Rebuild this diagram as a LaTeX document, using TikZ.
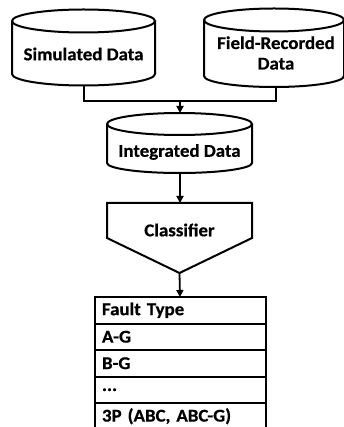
\documentclass[tikz,border=0pt]{standalone}
\usepackage{fontspec}
\setmainfont{Carlito}[FakeStretch=1.05, BoldFeatures={FakeBold=0.6}]
\usetikzlibrary{arrows.meta}
\begin{document}
\begin{tikzpicture}[x=1pt,y=-1pt,
  line width=2pt,
  txt/.style={font=\bfseries\fontsize{18}{20.5}\selectfont},
  lbl/.style={txt, align=center, inner sep=0pt},
  arr/.style={-{Triangle[length=7pt,width=7pt]}, line width=1.8pt},
  rowbox/.style={draw, txt, line width=2pt, outer sep=0pt, minimum width=171pt, minimum height=26.5pt, text width=156pt, inner xsep=7.5pt, inner ysep=0pt, align=left}]
\useasboundingbox (0,0) rectangle (344,427);
% Simulated Data cylinder
\draw (12,21) -- (12,74) arc[start angle=180, end angle=0, x radius=71.5, y radius=11.5] -- (155,21);
\draw (83.5,21) ellipse [x radius=71.5, y radius=11.5];
\node[lbl] (sim) at (83.5,54) {Simulated Data};
\coordinate (simB) at (83.5,85.5);
% Field-Recorded Data cylinder
\draw (204,20) -- (204,76) arc[start angle=180, end angle=0, x radius=70, y radius=11] -- (344,20);
\draw (274,20) ellipse [x radius=70, y radius=11.5];
\node[lbl] (fld) at (276,53) {Field-Recorded\\Data};
\coordinate (fldB) at (276,87);
% connector
\coordinate (join) at (180,101);
\draw (simB) -- (simB |- join) -- (fldB |- join) -- (fldB);
% Integrated Data cylinder
\draw (107,124) -- (107,163) arc[start angle=180, end angle=0, x radius=72.5, y radius=10] -- (252,124);
\draw (179.5,124) ellipse [x radius=72.5, y radius=11];
\node[lbl] (int) at (179.5,152) {Integrated Data};
\coordinate (intT) at (180,113);
\coordinate (intB) at (180,173);
\draw[arr] (join) -- (intT);
% Classifier
\draw (107,203) -- (252,203) -- (252,238) -- (179.5,273) -- (107,238) -- cycle;
\node[lbl] (cls) at (179.5,230) {Classifier};
\coordinate (clsT) at (180,203);
\coordinate (clsB) at (179.5,273);
\draw[arr] (intB) -- (clsT);
% Table
\node[rowbox, anchor=north] (r1) at (180,297) {Fault Type};
\node[rowbox, anchor=north] (r2) at (r1.south) {A-G};
\node[rowbox, anchor=north] (r3) at (r2.south) {B-G};
\node[rowbox, anchor=north] (r4) at (r3.south) {...};
\node[rowbox, anchor=north] (r5) at (r4.south) {3P (ABC, ABC-G)};
\draw[arr] (clsB) -- (r1.north);
\end{tikzpicture}
\end{document}
